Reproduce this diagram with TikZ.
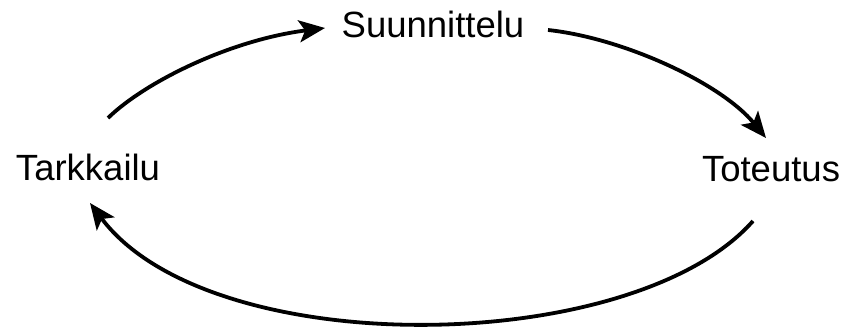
\documentclass[tikz,border=0pt]{standalone}
\usepackage{fontspec}
\setmainfont{Liberation Sans}
\usetikzlibrary{arrows.meta}
\begin{document}
\begin{tikzpicture}[x=1pt,y=-1pt,
        phase/.style={anchor=base,inner sep=0pt,font=\fontsize{36.5}{40}\selectfont},
        cyclearrow/.style={line width=3.8pt,-{Stealth[length=26pt,width=22pt,inset=6pt]}}]
        \useasboundingbox (0,0) rectangle (844,328);
        %% phases
        \node[phase] (suun) at (433,38) {Suunnittelu};
        \node[phase] (tark) at (88,181) {Tarkkailu};
        \node[phase] (tote) at (771,182) {Toteutus};
        %% cycle
        \draw[cyclearrow] ([shift={(20,-63)}]tark.base)
            .. controls +(37,-36) and +(-95,12) .. ([shift={(-108,-10)}]suun.base);
        \draw[cyclearrow] ([shift={(115,-8)}]suun.base)
            .. controls +(75,8) and +(-45,-55) .. ([shift={(-5,-44)}]tote.base);
        \draw[cyclearrow] ([shift={(-18,39)}]tote.base)
            .. controls +(-120,136) and +(120,160) .. ([shift={(2,22)}]tark.base);
    \end{tikzpicture}
\end{document}
